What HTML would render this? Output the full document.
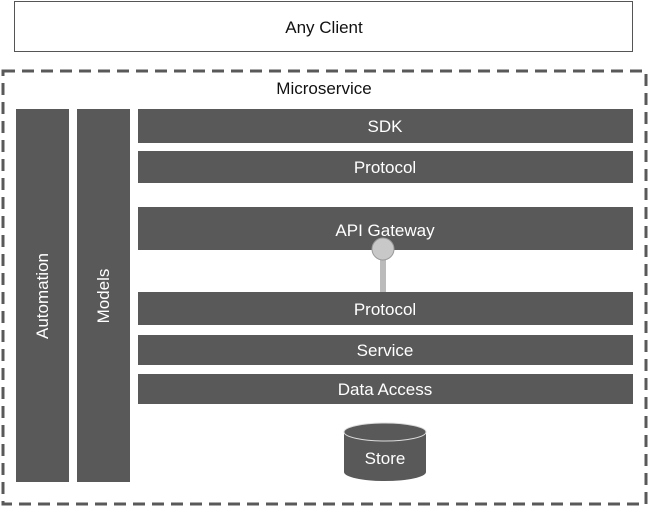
<!DOCTYPE html>
<html><head><style>
body{margin:0;width:650px;height:509px;background:#fff;overflow:hidden;font-family:"Liberation Sans",sans-serif}
</style></head><body>
<svg width="650" height="509" xmlns="http://www.w3.org/2000/svg" font-family="Liberation Sans, sans-serif">
<rect x="14.5" y="1.5" width="618" height="50" fill="#fff" stroke="#555" stroke-width="1"/>
<text x="324" y="33" font-size="17" text-anchor="middle" fill="#111">Any Client</text>
<rect x="3" y="71" width="643" height="433" fill="none" stroke="#595959" stroke-width="3" stroke-dasharray="12,7"/>
<text x="324" y="94" font-size="17" text-anchor="middle" fill="#111">Microservice</text>
<g fill="#595959">
<rect x="16" y="109" width="53" height="373"/>
<rect x="77" y="109" width="53" height="373"/>
<rect x="138" y="109" width="495" height="34"/>
<rect x="138" y="151" width="495" height="32"/>
<rect x="138" y="207" width="495" height="43"/>
<rect x="138" y="292" width="495" height="33"/>
<rect x="138" y="335" width="495" height="30"/>
<rect x="138" y="374" width="495" height="30"/>
</g>
<g fill="#fff" font-size="17" text-anchor="middle">
<text x="385" y="132">SDK</text>
<text x="385" y="173">Protocol</text>
<text x="385" y="236">API Gateway</text>
<text x="385" y="315">Protocol</text>
<text x="385" y="356">Service</text>
<text x="385" y="395">Data Access</text>
<text transform="translate(48,296) rotate(-90)">Automation</text>
<text transform="translate(109,296) rotate(-90)">Models</text>
</g>
<rect x="380" y="252" width="6" height="40" fill="#bbb"/>
<circle cx="383" cy="249" r="11" fill="#c8c8c8" stroke="#999"/>
<path d="M344 432 L344 472 A41 9 0 0 0 426 472 L426 432" fill="#595959"/>
<ellipse cx="385" cy="432" rx="41" ry="9" fill="#595959" stroke="#ddd" stroke-width="1"/>
<text x="385" y="464" font-size="17" fill="#fff" text-anchor="middle">Store</text>
</svg>
</body></html>
